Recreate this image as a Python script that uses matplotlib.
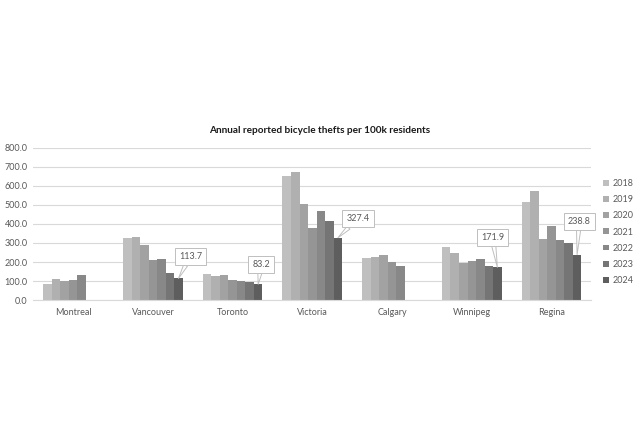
import matplotlib
matplotlib.use("Agg")
import matplotlib.pyplot as plt
import numpy as np

cities = ["Montreal", "Vancouver", "Toronto", "Victoria", "Calgary", "Winnipeg", "Regina"]
years = ["2018", "2019", "2020", "2021", "2022", "2023", "2024"]
nan = np.nan
v2018 = [86, 327, 137, 650, 223, 281, 515]
v2019 = [109, 329, 128, 673, 225, 246, 573]
v2020 = [102, 290, 132, 506, 237, 193, 323]
v2021 = [107, 211, 107, 381, 200, 206, 390]
v2022 = [131, 214, 100, 469, 179, 216, 316]
v2023 = [nan, 142, 97, 417, nan, 179, 301]
v2024 = [nan, 113.7, 83.2, 327.4, nan, 171.9, 238.8]
series = [v2018, v2019, v2020, v2021, v2022, v2023, v2024]
colors = ["#bfbfbf", "#b0b0b0", "#a2a2a2", "#959595", "#888888", "#757575", "#5e5e5e"]
ytick_vals = [0, 100, 200, 300, 400, 500, 600, 700, 800]

plt.rcParams['font.family'] = ['Lato', 'DejaVu Sans']

fig = plt.figure(figsize=(6.4, 4.4), dpi=100)
ax = fig.add_axes([0.052, 0.318, 0.872, 0.346])

n = len(years)
bw = 0.107
x = np.arange(len(cities))
bars_all = []
for i, (vals, c, yr) in enumerate(zip(series, colors, years)):
    pos = x - bw * (n - 1) / 2 + i * bw
    ax.bar(pos, vals, width=bw, color=c, label=yr, linewidth=0)
    bars_all.append((pos, vals))

ax.set_xlim(-0.5, len(cities) - 0.5)
ax.set_ylim(0, 800)
ax.set_yticks(ytick_vals)
ax.set_yticklabels([f"{v:.1f}" for v in ytick_vals], fontsize=6.5, color="#595959")
ax.set_xticks(x)
ax.set_xticklabels(cities, fontsize=6.5, color="#595959")
ax.tick_params(axis='both', length=0)
ax.tick_params(axis='x', pad=6)
ax.tick_params(axis='y', pad=4)
ax.grid(axis='y', color="#d9d9d9", linewidth=0.8)
ax.set_axisbelow(True)
for s in ["top", "right", "left"]:
    ax.spines[s].set_visible(False)
ax.spines["bottom"].set_color("#d9d9d9")
ax.spines["bottom"].set_linewidth(0.8)

# callout labels for 2024
offsets = {1: (12, 22), 2: (3, 20), 3: (20, 19), 5: (-5, 30), 6: (2, 33)}
pos24, vals24 = bars_all[-1]
for idx, (dx, dy) in offsets.items():
    ax.annotate(f"{vals24[idx]:.1f}", xy=(pos24[idx], vals24[idx]),
                xytext=(dx, dy), textcoords="offset pixels",
                ha="center", va="center", fontsize=6.5, color="#595959",
                bbox=dict(boxstyle="square,pad=0.45", fc="white", ec="#bfbfbf", lw=0.7),
                arrowprops=dict(arrowstyle="wedge,tail_width=0.45,shrink_factor=0.5",
                                fc="white", ec="#bfbfbf", lw=0.7, shrinkA=0, shrinkB=0))

fig.text(0.5, 0.703, "Annual reported bicycle thefts per 100k residents",
         ha="center", va="center", fontsize=7.2, fontweight="bold", color="#1a1a1a")

leg = ax.legend(loc="upper left", bbox_to_anchor=(1.015, 0.82), frameon=False,
                fontsize=6.5, handlelength=0.6, handleheight=0.6, handletextpad=0.4,
                labelspacing=0.8, borderaxespad=0)
for t in leg.get_texts():
    t.set_color("#595959")

fig.savefig("out.png", dpi=100)
